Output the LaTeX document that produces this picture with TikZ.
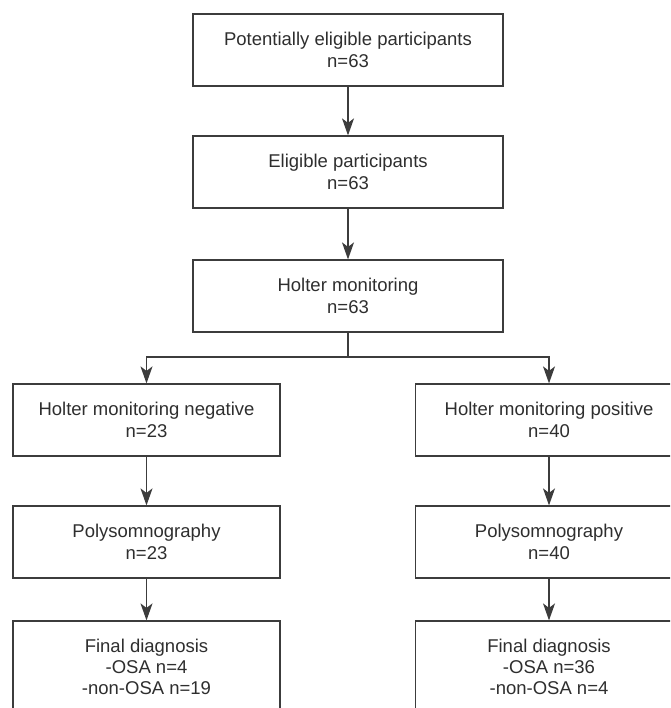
\documentclass[tikz,border=0pt]{standalone}
\usepackage{fontspec}
\setmainfont{Liberation Sans}
\usetikzlibrary{arrows.meta}
\definecolor{linec}{HTML}{3C3C3C}
\definecolor{textc}{HTML}{2E2E2E}
\begin{document}
\begin{tikzpicture}[x=1pt,y=-1pt,
  box/.style={draw=linec, line width=1.2pt, align=center, text=textc,
    font=\fontsize{18.5}{22.5}\selectfont, inner sep=0pt},
  mainbox/.style={box, minimum width=310pt, minimum height=72pt},
  sidebox/.style={box, minimum width=267pt, minimum height=72pt},
  finalbox/.style={box, minimum width=267pt, minimum height=91pt,
    font=\fontsize{18.5}{21}\selectfont},
  arr/.style={draw=linec, line width=1.3pt, -{Stealth[length=17pt,width=12pt,inset=4.5pt]}},
  ln/.style={draw=linec, line width=1.3pt}]
\useasboundingbox (0,0) rectangle (670,708);
\clip (0,0) rectangle (670,708);
\node[mainbox] (a) at (348,50) {Potentially eligible participants\\n=63};
\node[mainbox] (b) at (348,172) {Eligible participants\\n=63};
\node[mainbox] (c) at (348,296) {Holter monitoring\\n=63};
\node[sidebox] (d) at (146.5,420) {Holter monitoring negative\\n=23};
\node[sidebox] (e) at (549,420) {Holter monitoring positive\\n=40};
\node[sidebox] (f) at (146.5,542) {Polysomnography\\n=23};
\node[sidebox] (g) at (549,542) {Polysomnography\\n=40};
\node[finalbox] (h) at (146.5,666.5) {Final diagnosis\\-OSA n=4\\-non-OSA n=19};
\node[finalbox] (i) at (549,666.5) {Final diagnosis\\-OSA n=36\\-non-OSA n=4};
\coordinate (br) at (348,357);
\draw[arr] (a) -- (b);
\draw[arr] (b) -- (c);
\draw[ln] (c.south) -- (br);
\draw[arr] (br) -| (d.north);
\draw[arr] (br) -| (e.north);
\draw[arr] (d) -- (f);
\draw[arr] (e) -- (g);
\draw[arr] (f) -- (h);
\draw[arr] (g) -- (i);
\end{tikzpicture}
\end{document}
